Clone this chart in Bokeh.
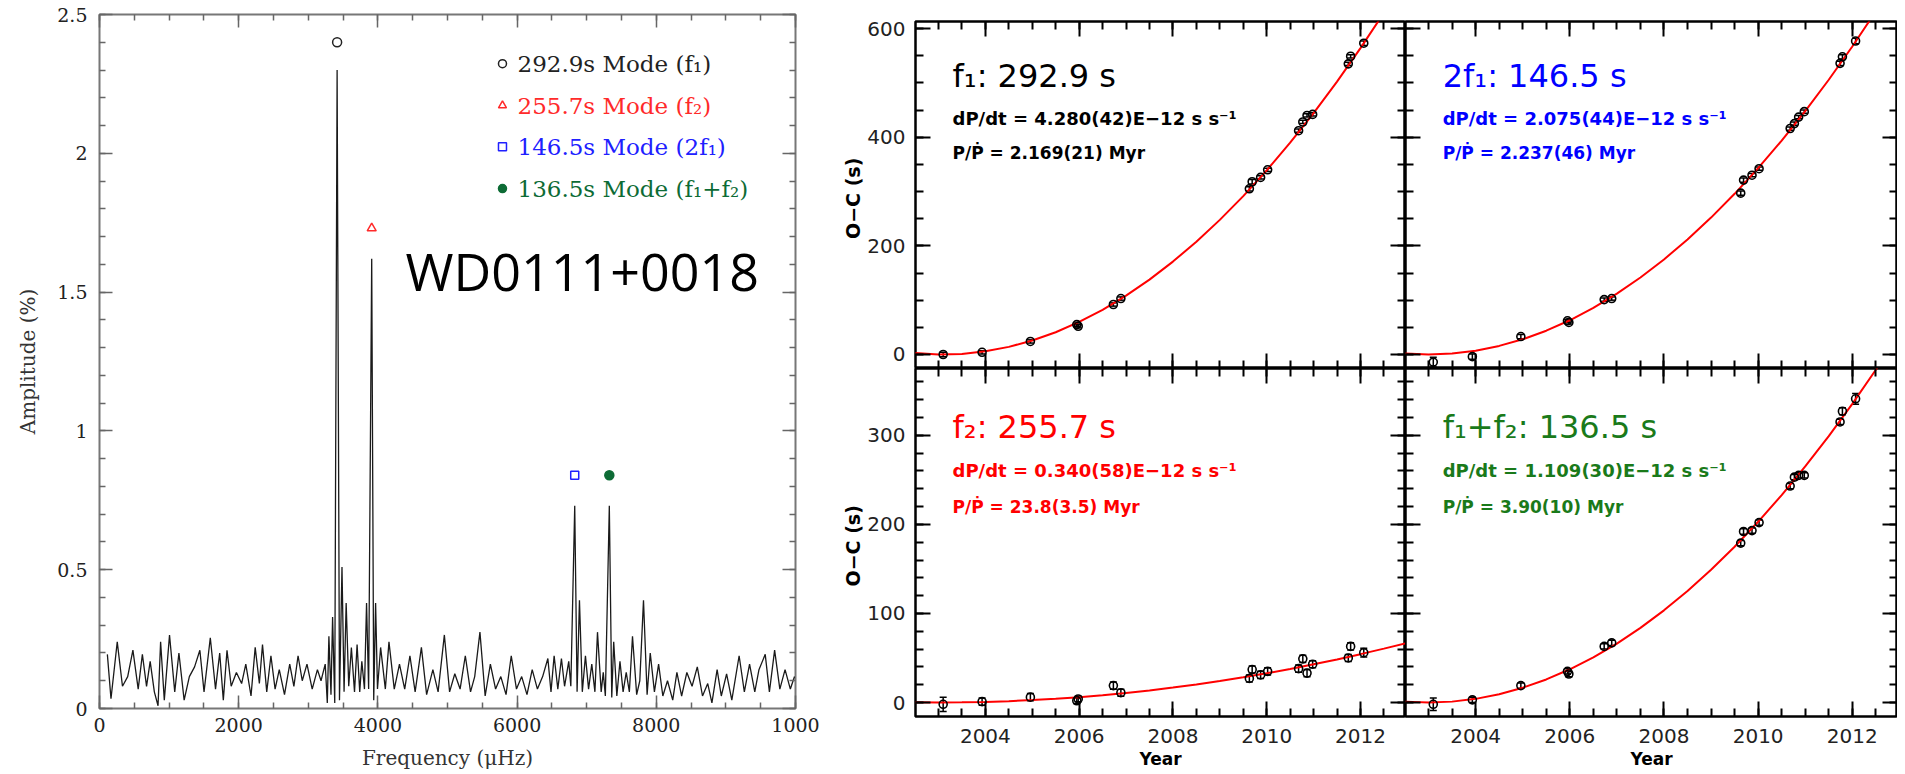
from bokeh.plotting import figure
from bokeh.layouts import row, column
from bokeh.models import (FixedTicker, LinearAxis, Range1d, ColumnDataSource, Whisker,
                          CustomJSTickFormatter)
from bokeh.core.properties import value
from bokeh.embed import file_html
from bokeh.resources import INLINE

# ---------------- left panel: amplitude spectrum ----------------
freq_uHz = [113, 165, 255, 330, 405, 480, 556, 616, 676, 728, 788, 841, 878, 931, 1006, 1081, 1141, 1216,
            1291, 1366, 1442, 1502, 1592, 1667, 1727, 1779, 1832, 1892, 1967, 2042, 2102, 2177, 2237, 2297,
            2342, 2403, 2463, 2523, 2583, 2658, 2733, 2793, 2853, 2913, 2981, 3056, 3131, 3183, 3243, 3273,
            3296, 3326, 3349, 3380, 3414, 3448, 3484, 3514, 3544, 3581, 3619, 3664, 3701, 3739, 3769, 3807,
            3837, 3867, 3911, 3940, 3967, 3994, 4039, 4107, 4159, 4235, 4310, 4385, 4460, 4535, 4625, 4700,
            4790, 4865, 4955, 5030, 5105, 5181, 5256, 5331, 5391, 5466, 5541, 5616, 5691, 5766, 5841, 5916,
            5991, 6066, 6142, 6217, 6292, 6367, 6442, 6487, 6532, 6585, 6637, 6682, 6742, 6772, 6828, 6862,
            6896, 6937, 6982, 7027, 7073, 7118, 7155, 7208, 7238, 7268, 7325, 7360, 7388, 7433, 7478, 7523,
            7568, 7613, 7658, 7718, 7763, 7816, 7868, 7913, 7973, 8033, 8094, 8161, 8236, 8296, 8364, 8439,
            8514, 8589, 8664, 8739, 8799, 8874, 8934, 9010, 9085, 9190, 9265, 9340, 9415, 9475, 9565, 9625,
            9700, 9775, 9850, 9926, 9986]
amp_pct = [0.195, 0.035, 0.24, 0.08, 0.115, 0.21, 0.07, 0.195, 0.08, 0.17, 0.06, 0.01, 0.24, 0.03, 0.265, 0.06,
           0.20, 0.03, 0.115, 0.15, 0.21, 0.06, 0.255, 0.07, 0.20, 0.03, 0.21, 0.08, 0.13, 0.09, 0.16, 0.045,
           0.22, 0.09, 0.23, 0.06, 0.19, 0.07, 0.14, 0.05, 0.16, 0.08, 0.19, 0.10, 0.16, 0.07, 0.14, 0.10,
           0.16, 0.02, 0.26, 0.05, 0.33, 0.02, 2.30, 0.03, 0.51, 0.06, 0.38, 0.08, 0.22, 0.06, 0.23, 0.06,
           0.17, 0.07, 0.38, 0.07, 1.62, 0.03, 0.38, 0.07, 0.22, 0.07, 0.24, 0.07, 0.16, 0.07, 0.19, 0.06,
           0.22, 0.05, 0.14, 0.06, 0.265, 0.06, 0.125, 0.07, 0.19, 0.06, 0.115, 0.275, 0.045, 0.16, 0.07,
           0.115, 0.05, 0.19, 0.07, 0.115, 0.05, 0.14, 0.07, 0.115, 0.18, 0.06, 0.19, 0.07, 0.18, 0.08, 0.17,
           0.08, 0.73, 0.06, 0.39, 0.06, 0.19, 0.07, 0.16, 0.06, 0.275, 0.06, 0.13, 0.045, 0.73, 0.04, 0.24,
           0.045, 0.17, 0.06, 0.13, 0.06, 0.26, 0.05, 0.10, 0.39, 0.05, 0.20, 0.06, 0.16, 0.045, 0.10, 0.03,
           0.13, 0.045, 0.13, 0.08, 0.15, 0.045, 0.09, 0.02, 0.14, 0.045, 0.125, 0.03, 0.19, 0.06, 0.16, 0.06,
           0.14, 0.195, 0.06, 0.21, 0.07, 0.14, 0.07, 0.115]

mode_freq = [3414, 3911, 6828, 7325]
mode_marker_amp = [2.40, 1.73, 0.84, 0.84]
mode_labels = ["292.9s Mode (f\u2081)", "255.7s Mode (f\u2082)", "146.5s Mode (2f\u2081)",
               "136.5s Mode (f\u2081+f\u2082)"]
mode_markers = ["circle", "triangle", "square", "circle"]
mode_colors = ["#222222", "#ff2a2a", "#2020ff", "#0d6b35"]
mode_fill = [None, None, None, "#0d6b35"]
star_name = "WD0111+0018"

freq_ticks = [0, 2000, 4000, 6000, 8000, 10000]
freq_tick_labels = ["0", "2000", "4000", "6000", "8000", "1000"]
amp_ticks = [0, 0.5, 1, 1.5, 2, 2.5]
amp_tick_labels = ["0", "0.5", "1", "1.5", "2", "2.5"]

# ---------------- right panels: O-C diagrams ----------------
obs_year = [2003.10, 2003.93, 2004.96, 2005.95, 2005.98, 2006.73, 2006.89, 2009.63, 2009.69, 2009.87,
            2010.02, 2010.68, 2010.77, 2010.86, 2010.98, 2011.74, 2011.79, 2012.07]
oc_f1 = [0, 4, 24, 55, 52, 92, 103, 305, 318, 326, 340, 412, 428, 440, 442, 535, 549, 573]
err_f1 = [4, 3, 3, 3, 3, 3, 3, 4, 4, 3, 3, 3, 3, 3, 3, 3, 3, 4]
oc_2f1 = [-14, -4, 33, 62, 59, 101, 103, 297, 321, 330, 342, 416, 425, 437, 447, 536, 548, 577]
err_2f1 = [9, 5, 4, 3, 3, 3, 3, 4, 4, 3, 3, 3, 3, 3, 3, 4, 4, 5]
oc_f2 = [-2, 1, 6, 2, 4, 19, 11, 27, 37, 31, 35, 38, 49, 33, 43, 50, 63, 56]
err_f2 = [8, 4, 4, 3, 3, 4, 4, 4, 4, 4, 4, 4, 4, 4, 4, 4, 4, 5]
oc_f1f2 = [-2, 3, 19, 35, 32, 63, 67, 179, 192, 193, 202, 243, 253, 255, 255, 315, 327, 341]
err_f1f2 = [7, 3, 3, 3, 3, 3, 3, 3, 3, 3, 3, 3, 3, 3, 3, 3, 4, 6]

fit_year = [2002.5, 2003.0, 2003.5, 2004.0, 2004.5, 2005.0, 2005.5, 2006.0, 2006.5, 2007.0, 2007.5,
            2008.0, 2008.5, 2009.0, 2009.5, 2010.0, 2010.5, 2011.0, 2011.5, 2012.0, 2012.5, 2013.0]
fit_f1 = [2.6, 0.1, 1.1, 5.8, 14.0, 25.7, 41.0, 59.9, 82.3, 108.3, 137.8, 171.0, 207.6, 247.8, 291.6,
          339.0, 389.9, 444.4, 502.4, 564.0, 629.1, 697.8]
fit_2f1 = [1.8, 0.0, 1.8, 7.0, 15.8, 28.0, 43.8, 63.0, 85.8, 112.0, 141.8, 175.0, 211.8, 252.0, 295.8,
           343.0, 393.8, 448.0, 505.8, 567.0, 631.8, 700.0]
fit_f2 = [0.2, 0.0, 0.2, 0.7, 1.5, 2.7, 4.2, 6.0, 8.2, 10.7, 13.6, 16.8, 20.3, 24.1, 28.3, 32.8, 37.7,
          42.9, 48.4, 54.3, 60.5, 67.0]
fit_f1f2 = [1.0, 0.0, 1.0, 4.1, 9.3, 16.6, 25.9, 37.3, 50.7, 66.2, 83.8, 103.5, 125.2, 149.0, 174.9,
            202.9, 232.9, 265.0, 299.1, 335.3, 373.6, 414.0]

panel_titles = ["f\u2081: 292.9 s", "2f\u2081: 146.5 s", "f\u2082: 255.7 s", "f\u2081+f\u2082: 136.5 s"]
panel_dpdt = ["dP/dt = 4.280(42)E\u221212 s s\u207b\u00b9", "dP/dt = 2.075(44)E\u221212 s s\u207b\u00b9",
              "dP/dt = 0.340(58)E\u221212 s s\u207b\u00b9", "dP/dt = 1.109(30)E\u221212 s s\u207b\u00b9"]
panel_ppdot = ["P/\u1e56 = 2.169(21) Myr", "P/\u1e56 = 2.237(46) Myr", "P/\u1e56 = 23.8(3.5) Myr",
               "P/\u1e56 = 3.90(10) Myr"]
panel_colors = ["#000000", "#0000ff", "#ff0000", "#1a7a1a"]

year_ticks = [2004, 2006, 2008, 2010, 2012]
oc_top_ticks = [0, 200, 400, 600]
oc_bot_ticks = [0, 100, 200, 300]

SERIF = value("DejaVu Serif")
SANS = "DejaVu Sans"


def style_axis(ax, ticker, labels, font, size, color, lw, maj, mnr, standoff=10, overrides=None):
    ax.ticker = ticker
    ax.axis_line_color = None
    ax.major_tick_in = maj
    ax.major_tick_out = 0
    ax.minor_tick_in = mnr
    ax.minor_tick_out = 0
    ax.major_tick_line_color = color
    ax.minor_tick_line_color = color
    ax.major_tick_line_width = lw
    ax.minor_tick_line_width = lw
    if labels:
        ax.major_label_text_font = font
        ax.major_label_text_font_size = size
        ax.major_label_text_color = "#222222"
        ax.major_label_standoff = standoff
        if overrides:
            ax.major_label_overrides = overrides
    else:
        ax.formatter = CustomJSTickFormatter(code="return ''")
        ax.major_label_text_font_size = "1px"
        ax.major_label_standoff = 0


# ---- left figure ----
left = figure(width=825, height=774, output_backend="svg", toolbar_location=None,
              x_range=Range1d(0, 10000), y_range=Range1d(0, 2.5),
              min_border_left=99, min_border_right=30, min_border_top=14, min_border_bottom=66)
left.xgrid.visible = False
left.ygrid.visible = False
left.outline_line_color = "#777777"
left.outline_line_width = 2

fx_ticker = FixedTicker(ticks=freq_ticks, minor_ticks=list(range(0, 10001, 500)))
amp_ticker = FixedTicker(ticks=amp_ticks, minor_ticks=[i / 10 for i in range(0, 26)])
style_axis(left.xaxis[0], fx_ticker, True, "DejaVu Serif", "19px", "#666666", 1.5, 13, 6, 9,
           {t: l for t, l in zip(freq_ticks, freq_tick_labels)})
style_axis(left.yaxis[0], amp_ticker, True, "DejaVu Serif", "19px", "#666666", 1.5, 13, 6, 12,
           {t: l for t, l in zip(amp_ticks, amp_tick_labels)})
left.xaxis.axis_label = "Frequency (\u03bcHz)"
left.yaxis.axis_label = "Amplitude (%)"
for ax in (left.xaxis[0], left.yaxis[0]):
    ax.axis_label_text_font = "DejaVu Serif"
    ax.axis_label_text_font_size = "20px"
    ax.axis_label_text_font_style = "normal"
    ax.axis_label_text_color = "#333333"
left.xaxis.axis_label_standoff = 11
left.yaxis.axis_label_standoff = 14
ra = LinearAxis()
style_axis(ra, amp_ticker, False, None, None, "#666666", 1.5, 13, 6)
left.add_layout(ra, "right")
ta = LinearAxis()
style_axis(ta, fx_ticker, False, None, None, "#666666", 1.5, 13, 6)
left.add_layout(ta, "above")

left.line(freq_uHz, amp_pct, line_color="#1a1a1a", line_width=1.3)

for i in range(4):
    left.scatter([mode_freq[i]], [mode_marker_amp[i]], marker=mode_markers[i], size=9 if i != 2 else 8,
                 line_color=mode_colors[i], fill_color=mode_fill[i], line_width=1.5)

# legend (markers + coloured text)
leg_x_marker = 5790
leg_x_text = 6006
leg_y = [2.323, 2.172, 2.024, 1.873]
for i in range(4):
    left.scatter([leg_x_marker], [leg_y[i]], marker=mode_markers[i], size=8,
                 line_color=mode_colors[i], fill_color=mode_fill[i], line_width=1.5)
left.text(x=[leg_x_text] * 4, y=leg_y, text=mode_labels, text_color=mode_colors,
          text_font=SERIF, text_font_size="23px", text_baseline="middle", text_align="left")

left.text(x=[4397], y=[1.578], text=[star_name], text_font=value("Open Sans"), text_font_size="52px",
          text_baseline="middle", text_align="left", text_color="black")

# ---- right panels ----
yr_ticker = FixedTicker(ticks=year_ticks, minor_ticks=[2002.5 + 0.5 * i for i in range(22)])
top_ticker = FixedTicker(ticks=oc_top_ticks, minor_ticks=list(range(-50, 651, 50)))
bot_ticker = FixedTicker(ticks=oc_bot_ticks, minor_ticks=list(range(-20, 381, 20)))

panels_oc = [oc_f1, oc_2f1, oc_f2, oc_f1f2]
panels_err = [err_f1, err_2f1, err_f2, err_f1f2]
panels_fit = [fit_f1, fit_2f1, fit_f2, fit_f1f2]


def oc_panel(idx, width, height, bl, bt, bb, is_top, is_left):
    yr = Range1d(-25.8, 613) if is_top else Range1d(-15.7, 375)
    p = figure(width=width, height=height, output_backend="svg", toolbar_location=None,
               x_range=Range1d(2002.51, 2012.96), y_range=yr,
               min_border_left=bl, min_border_right=0, min_border_top=bt, min_border_bottom=bb)
    p.xgrid.visible = False
    p.ygrid.visible = False
    p.outline_line_color = "black"
    p.outline_line_width = 2.5
    yt = top_ticker if is_top else bot_ticker
    style_axis(p.xaxis[0], yr_ticker, not is_top, SANS, "20px", "black", 2, 15, 8, 12)
    style_axis(p.yaxis[0], yt, is_left, SANS, "20px", "black", 2, 15, 8, 10)
    if not is_top:
        p.xaxis.axis_label = "Year"
        p.xaxis.axis_label_standoff = 3
    if is_left:
        p.yaxis.axis_label = "O\u2212C  (s)"
        p.yaxis.axis_label_standoff = 0
    for ax in (p.xaxis[0], p.yaxis[0]):
        ax.axis_label_text_font = SANS
        ax.axis_label_text_font_size = "19px"
        ax.axis_label_text_font_style = "bold"
        ax.axis_label_text_color = "black"
    p.xaxis.axis_label_text_font_size = "17px"
    r = LinearAxis()
    style_axis(r, yt, False, None, None, "black", 2, 15, 8)
    p.add_layout(r, "right")
    a = LinearAxis()
    style_axis(a, yr_ticker, False, None, None, "black", 2, 15, 8)
    p.add_layout(a, "above")

    p.line(fit_year, panels_fit[idx], line_color="#ff0000", line_width=2)
    oc = panels_oc[idx]
    er = panels_err[idx]
    src = ColumnDataSource(dict(x=obs_year, y=oc,
                                lo=[v - e for v, e in zip(oc, er)],
                                hi=[v + e for v, e in zip(oc, er)]))
    w = Whisker(source=src, base="x", upper="hi", lower="lo", line_color="black", line_width=1.5)
    w.upper_head.size = 7
    w.lower_head.size = 7
    w.upper_head.line_width = 1.5
    w.lower_head.line_width = 1.5
    p.add_layout(w)
    p.scatter("x", "y", source=src, marker="circle", size=8, fill_color=None,
              line_color="black", line_width=1.6)

    col = panel_colors[idx]
    tx = 2003.3
    ys = (513, 434, 370) if is_top else (309, 260, 220)
    p.text(x=[tx], y=[ys[0]], text=[panel_titles[idx]], text_color=col, text_font=value(SANS),
           text_font_size="32px", text_baseline="middle")
    p.text(x=[tx], y=[ys[1]], text=[panel_dpdt[idx]], text_color=col, text_font=value(SANS),
           text_font_size="18px", text_font_style="bold", text_baseline="middle")
    p.text(x=[tx], y=[ys[2]], text=[panel_ppdot[idx]], text_color=col, text_font=value(SANS),
           text_font_size="17px", text_font_style="bold", text_baseline="middle")
    return p


tl = oc_panel(0, 580, 368, 90, 21, 0, True, True)
tr = oc_panel(1, 492, 368, 0, 21, 0, True, False)
bl = oc_panel(2, 580, 406, 90, 0, 58, False, True)
br = oc_panel(3, 492, 406, 0, 0, 58, False, False)

layout = row(left, column(row(tl, tr), row(bl, br)))

open("out.html", "w").write(file_html(layout, INLINE))
